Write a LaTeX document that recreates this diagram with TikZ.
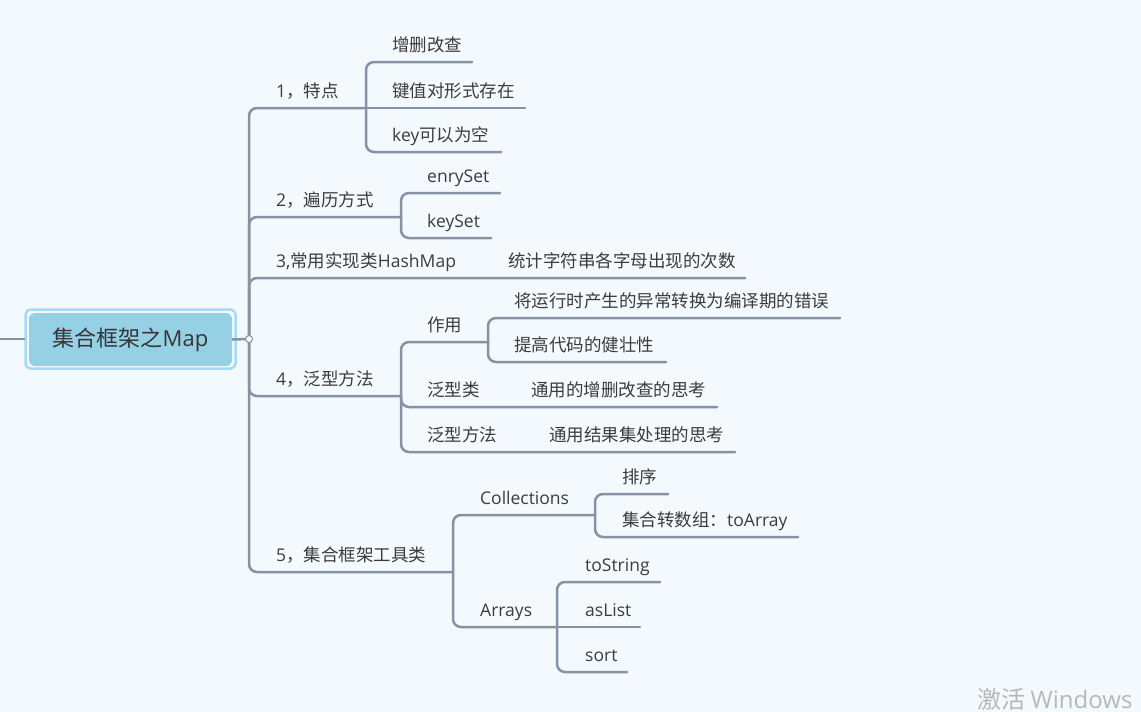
\documentclass[tikz,border=0pt]{standalone}
\usepackage{fontspec}
\setmainfont{Noto Sans CJK SC}
\newfontfamily\lat{Open Sans}
\definecolor{bgc}{HTML}{F4F9FD}
\definecolor{linec}{HTML}{8892A5}
\definecolor{textc}{HTML}{3C3C3C}
\definecolor{rootfill}{HTML}{95D0E5}
\definecolor{rootedge}{HTML}{A3DCF6}
\definecolor{wmark}{HTML}{B8B8B8}
\tikzset{
  br/.style={draw=linec, line width=2.5pt, rounded corners=8pt, line cap=round},
  txt/.style={anchor=base west, inner sep=0pt, text=textc, font=\fontsize{17.5}{20}\selectfont},
  rootbox/.style={fill=rootfill, rounded corners=6pt, minimum width=203pt, minimum height=53pt, inner sep=0pt, text=textc!90!black, font=\fontsize{22}{26}\selectfont},
}
\begin{document}
\begin{tikzpicture}[x=1pt,y=-1pt]
\fill[bgc] (0,0) rectangle (1141,712);
\useasboundingbox (0,0) rectangle (1141,712);

% root
\draw[rootedge, line width=2.5pt, rounded corners=5pt] (25.5,309.5) rectangle (235.5,368.5);
\node[rootbox] (root) at (130.5,339.5) {集合框架之{\lat Map}};
\coordinate (lft) at (0,339);
\coordinate (hub) at (249,339);
\draw[br, line cap=butt] (lft) -- (25,339);
\draw[br, line cap=butt] (root.east) -- (hub);

% junction / end coordinates
\coordinate (j1) at (366,108);
\coordinate (j2) at (401,217);
\coordinate (e3) at (745,278);
\coordinate (j4) at (401,396);
\coordinate (j5) at (453,572);

% trunk branches
\draw[br] (hub) |- (j1);
\draw[br] (hub) |- (j2);
\draw[br] (hub) |- (e3);
\draw[br] (hub) |- (j4);
\draw[br] (hub) |- (j5);

% branch 1
\coordinate (e11) at (472,62);
\coordinate (e12) at (525,108);
\coordinate (e13) at (501,152);
\draw[br] (j1) |- (e11);
\draw[br] (j1) -- (e12);
\draw[br] (j1) |- (e13);
\node[txt] (n1) at (276,97) {{\lat 1}，特点};
\node[txt] (n11) at (392,51) {增删改查};
\node[txt] (n12) at (392,97) {键值对形式存在};
\node[txt] (n13) at (392,141) {{\lat key}可以为空};

% branch 2
\coordinate (e21) at (500,193);
\coordinate (e22) at (491,238);
\draw[br] (j2) |- (e21);
\draw[br] (j2) |- (e22);
\node[txt] (n2) at (276,206) {{\lat 2}，遍历方式};
\node[txt] (n21) at (427,182) {\lat enrySet};
\node[txt] (n22) at (427,227) {\lat keySet};

% branch 3
\node[txt] (n3) at (276,267) {{\lat 3,}常用实现类{\lat HashMap}};
\node[txt] (n31) at (508,267) {统计字符串各字母出现的次数};

% branch 4
\coordinate (j41) at (488,342);
\coordinate (e411) at (840,318);
\coordinate (e412) at (666,362);
\coordinate (e42) at (717,407);
\coordinate (e43) at (735,452);
\draw[br] (j4) |- (j41);
\draw[br] (j41) |- (e411);
\draw[br] (j41) |- (e412);
\draw[br] (j4) |- (e42);
\draw[br] (j4) |- (e43);
\node[txt] (n4) at (276,385) {{\lat 4}，泛型方法};
\node[txt] (n41) at (427,331) {作用};
\node[txt] (n411) at (514,307) {将运行时产生的异常转换为编译期的错误};
\node[txt] (n412) at (514,351) {提高代码的健壮性};
\node[txt] (n42) at (427,396) {泛型类};
\node[txt] (n421) at (531,396) {通用的增删改查的思考};
\node[txt] (n43) at (427,441) {泛型方法};
\node[txt] (n431) at (549,441) {通用结果集处理的思考};

% branch 5
\coordinate (j51) at (595,515);
\coordinate (j52) at (557,627);
\coordinate (e511) at (668,494);
\coordinate (e512) at (798,537);
\coordinate (e521) at (660,582);
\coordinate (e522) at (640,627);
\coordinate (e523) at (627,672);
\draw[br] (j5) |- (j51);
\draw[br] (j5) |- (j52);
\draw[br] (j51) |- (e511);
\draw[br] (j51) |- (e512);
\draw[br] (j52) |- (e521);
\draw[br] (j52) -- (e522);
\draw[br] (j52) |- (e523);
\node[txt] (n5) at (276,561) {{\lat 5}，集合框架工具类};
\node[txt] (n51) at (480,504) {\lat Collections};
\node[txt] (n511) at (622,483) {排序};
\node[txt] (n512) at (622,526) {集合转数组：{\lat toArray}};
\node[txt] (n52) at (480,616) {\lat Arrays};
\node[txt] (n521) at (585,571) {\lat toString};
\node[txt] (n522) at (585,616) {\lat asList};
\node[txt] (n523) at (585,661) {\lat sort};

% hub marker
\node[circle, draw=linec, fill=white, line width=1pt, minimum size=7pt, inner sep=0pt] (hubc) at (hub) {};

% watermark
\node[anchor=base west, inner sep=0pt, text=wmark, font=\fontsize{24}{28}\selectfont] (wm) at (977,708) {激活 {\lat Windows}};
\end{tikzpicture}
\end{document}
